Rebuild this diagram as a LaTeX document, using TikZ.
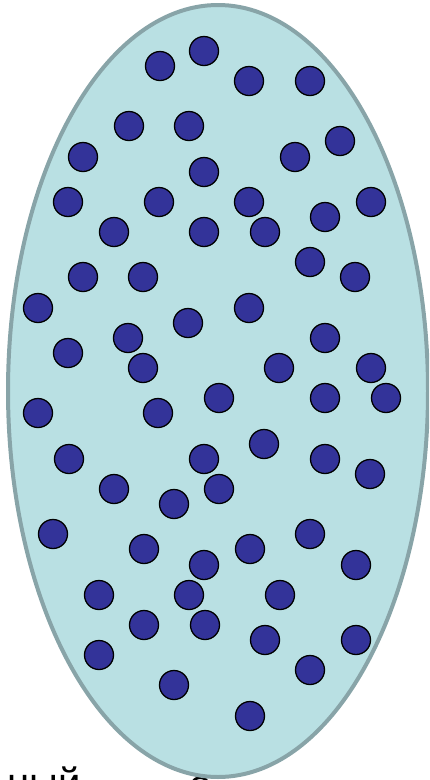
\documentclass[tikz,border=0pt]{standalone}
\usepackage{fontspec}
\setmainfont{Liberation Sans}
\begin{document}
\begin{tikzpicture}[x=1pt,y=-1pt,
  vessel/.style={draw=vesselline,fill=vesselfill,line width=4pt},
  particle/.style={circle,draw=black,fill=particlefill,line width=1.3pt,minimum size=29pt,inner sep=0pt},
  caption/.style={font=\fontsize{40}{48}\selectfont,text=black,inner sep=0pt}]
\definecolor{vesselline}{HTML}{88A4A8}
\definecolor{vesselfill}{HTML}{B9E0E3}
\definecolor{particlefill}{HTML}{333399}
\useasboundingbox (0,0) rectangle (429,780);
\begin{scope}
\clip (0,0) rectangle (429,780);
\node[caption,anchor=base east] (cap1) at (81,796) {ный};
\node[caption,anchor=base west] (cap2) at (189,798) {о};
\draw[vessel] (218,391) ellipse [x radius=210, y radius=386];
\foreach \px/\py [count=\i] in {
160/66,204/51,249/81,310/81,129/126,189/126,83/157,204/172,295/157,340/141,
68/202,159/202,249/202,371/202,114/232,204/232,265/232,325/217,310/262,
83/277,143/277,355/277,38/308,188/323,249/308,128/338,68/353,325/338,
143/368,279/368,371/368,219/398,325/398,386/398,38/413,158/413,264/444,
69/459,204/459,325/459,370/474,114/489,219/489,174/504,
53/534,144/549,204/565,250/549,310/534,356/565,99/595,189/595,280/595,
144/625,205/625,265/640,356/640,99/655,310/670,174/685,250/716}
  \node[particle] (p\i) at (\px,\py) {};
\end{scope}
\end{tikzpicture}
\end{document}
